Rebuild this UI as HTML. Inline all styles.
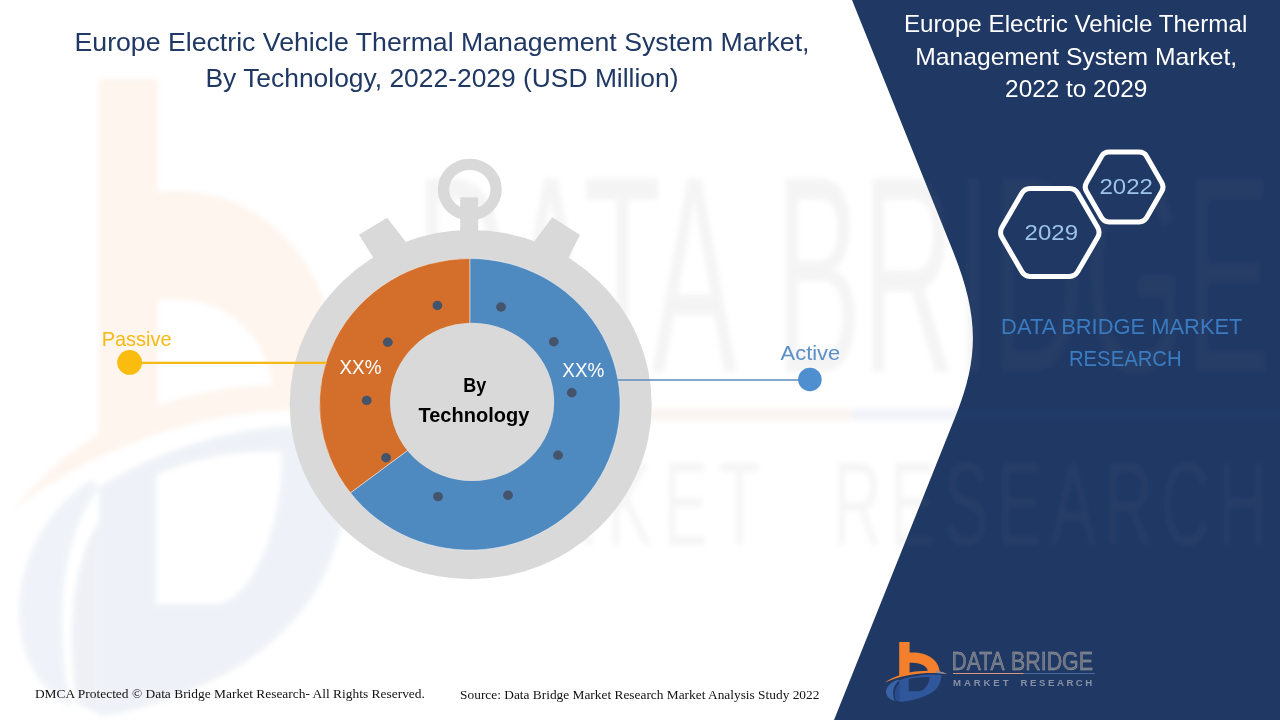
<!DOCTYPE html>
<html lang="en">
<head>
<meta charset="utf-8">
<title>Europe Electric Vehicle Thermal Management System Market</title>
<style>
  html, body { margin: 0; padding: 0; background: #ffffff; }
  body { width: 1280px; height: 720px; overflow: hidden; position: relative; }
  svg { position: absolute; left: 0; top: 0; display: block; }
  text { font-family: "Liberation Sans", sans-serif; }
  .serif { font-family: "Liberation Serif", serif; }
</style>
</head>
<body>
<svg width="1280" height="720" viewBox="0 0 1280 720">
  <defs>
    <filter id="blur3" x="-5%" y="-5%" width="110%" height="110%"><feGaussianBlur stdDeviation="2.5"/></filter>
    <filter id="blur4" x="-10%" y="-10%" width="120%" height="120%"><feGaussianBlur stdDeviation="4"/></filter>
    <filter id="blur6" x="-10%" y="-10%" width="120%" height="120%"><feGaussianBlur stdDeviation="6"/></filter>
  </defs>

  <!-- ===== background ===== -->
  <rect x="0" y="0" width="1280" height="720" fill="#ffffff"/>


  <!-- ===== navy panel ===== -->
  <path id="panel" d="M852,0 L952.5,250 C977.3,311.7 980.7,353.3 956,415 L834,720 L1280,720 L1280,0 Z" fill="#1F3864"/>

  <!-- ===== WATERMARK (enlarged faint copy of the logo) ===== -->
  <g id="watermark" opacity="0.075" filter="url(#blur3)">
    <g transform="matrix(6.05 0 0 10.65 -5341.2 -6758.3)">
    <!-- blue D body -->
    <path fill-rule="evenodd" d="M899.2,680.4 C905,678 916,675.6 926,674.8 C932,674.4 938,674.6 941.4,675.2 C941.6,681 938.4,687.4 934,691 C928.6,695.2 922,697.6 914.5,699.4 C908.5,700.8 903,701.7 899.2,701.8 Z M908.7,679.2 C914,677.8 922,676.8 929.4,677 C929.6,682 927,687.4 922.6,690 C921,691 919.6,691.3 918,691.3 L908.7,691.3 Z" fill="#30579B"/>
    <!-- left crescent -->
    <path d="M886,692 C886,687 890.5,682.4 898,679.6 L899.2,680.4 C893.6,684.4 891.4,692 894.6,701 C889.6,699.4 886,696.4 886,692 Z" fill="#3A62A6"/>
    <path d="M895.6,700.6 C893.4,693 895.6,686.4 899.2,683.6 L899.2,701.6 Z" fill="#2A4C8A"/>
    <!-- orange b -->
    <path d="M899.2,642 L908.9,642 L908.9,652.6 C926,651.6 938.6,659 939.8,672 L928,671.6 C927.4,666 920,662 908.9,662.8 L908.9,674 L899.2,676 Z" fill="#F47F2C"/>
    <!-- orange swoosh -->
    <path d="M885,682.5 C893,676.6 905,672.6 918,671.3 C926,670.5 934,670.6 939.8,671.6 C942.6,672.2 945,673 946.8,674.1 C940,673 931,672.8 921,673.6 C908,674.8 894,678.4 885,682.5 Z" fill="#F47F2C"/>
    <path d="M936,671.1 C940,671.5 944,672.6 946.8,674.1 C943.4,673.5 940,673.2 936,673 Z" fill="#7F8FAE"/>
    <!-- wordmark -->
    <text x="951.6" y="669.5" font-size="26.4" fill="#7C7C80" textLength="53" lengthAdjust="spacingAndGlyphs">DATA</text>
    <text x="1011" y="669.5" font-size="26.4" fill="#7C7C80" textLength="82" lengthAdjust="spacingAndGlyphs">BRIDGE</text>
    <line x1="953" y1="673.5" x2="1023.8" y2="673.5" stroke="#C87A4A" stroke-width="1.1"/>
    <line x1="1023.8" y1="673.5" x2="1095" y2="673.5" stroke="#3E64A6" stroke-width="1.1"/>
    <text x="953" y="685.8" font-size="11.2" fill="#85868C" textLength="55.5" lengthAdjust="spacing">MARKET</text>
    <text x="1020.5" y="685.8" font-size="11.2" fill="#85868C" textLength="71.8" lengthAdjust="spacing">RESEARCH</text>
    </g>
  </g>

  <!-- ===== main title ===== -->
  <g fill="#1F3864" font-size="26">
    <text x="74.5" y="50.6" textLength="735" lengthAdjust="spacingAndGlyphs">Europe Electric Vehicle Thermal Management System Market,</text>
    <text x="205.5" y="86.5" textLength="473" lengthAdjust="spacingAndGlyphs">By Technology, 2022-2029 (USD Million)</text>
  </g>

  <!-- ===== STOPWATCH ===== -->
  <g id="stopwatch">
    <!-- top ring -->
    <ellipse cx="469.8" cy="189.5" rx="26.3" ry="25.2" fill="none" stroke="#D9D9D9" stroke-width="11.3"/>
    <!-- stem -->
    <rect x="460.2" y="197.3" width="18" height="40" fill="#D9D9D9"/>
    <!-- side buttons -->
    <polygon points="387.1,217.8 359,234.8 376,262 409,246" fill="#D9D9D9"/>
    <polygon points="552.2,217.3 580,235.1 566.3,262 531,246" fill="#D9D9D9"/>
    <!-- body -->
    <ellipse cx="470.7" cy="404.6" rx="181" ry="174.6" fill="#D9D9D9"/>
    <!-- donut: drawn in unstretched coords then scaled horizontally -->
    <g transform="translate(469.8,404.3) scale(1.031,1)">
      <!-- blue slice: from 12 o'clock clockwise round to the 127.4deg mark -->
      <path d="M0,0 L0,-145.8 A145.8,145.8 0 1 1 -115.83,88.55 Z" fill="#4E89C0" stroke="#ffffff" stroke-opacity="0.55" stroke-width="0.8"/>
      <!-- orange slice: from 12 o'clock counter-clockwise 127.4deg -->
      <path d="M0,0 L0,-145.8 A145.8,145.8 0 0 0 -115.83,88.55 Z" fill="#D36F2B" stroke="#ffffff" stroke-opacity="0.55" stroke-width="0.8"/>
    </g>
    <!-- hole (slightly off-centre, as in the artwork) -->
    <ellipse cx="472.1" cy="401.9" rx="82.1" ry="79.2" fill="#D9D9D9"/>
    <!-- dots -->
    <g fill="#44546A">
      <ellipse cx="437.4" cy="305.5" rx="4.9" ry="4.7"/>
      <ellipse cx="501" cy="307" rx="4.9" ry="4.7"/>
      <ellipse cx="553.8" cy="341.8" rx="4.9" ry="4.7"/>
      <ellipse cx="571.8" cy="392.7" rx="4.9" ry="4.7"/>
      <ellipse cx="558" cy="455.2" rx="4.9" ry="4.7"/>
      <ellipse cx="508" cy="495.3" rx="4.9" ry="4.7"/>
      <ellipse cx="438" cy="496.6" rx="4.9" ry="4.7"/>
      <ellipse cx="386.1" cy="457.8" rx="4.9" ry="4.7"/>
      <ellipse cx="366.7" cy="400.4" rx="4.9" ry="4.7"/>
      <ellipse cx="387.8" cy="342.2" rx="4.9" ry="4.7"/>
    </g>
    <!-- percentages -->
    <g fill="#ffffff" font-size="20.8">
      <text x="339.5" y="373.8" textLength="42" lengthAdjust="spacingAndGlyphs">XX%</text>
      <text x="562.3" y="376.7" textLength="42" lengthAdjust="spacingAndGlyphs">XX%</text>
    </g>
    <!-- centre caption -->
    <g fill="#000000" font-size="20.2" font-weight="bold">
      <text x="463.2" y="392" textLength="23" lengthAdjust="spacingAndGlyphs">By</text>
      <text x="418.5" y="421.5" textLength="110.8" lengthAdjust="spacingAndGlyphs">Technology</text>
    </g>
  </g>

  <!-- ===== LABELS ===== -->
  <g id="labels">
    <line x1="129.6" y1="362.9" x2="326.7" y2="362.9" stroke="#F7B916" stroke-width="2.2"/>
    <circle cx="129.6" cy="362.4" r="12.4" fill="#FBBC10"/>
    <text x="101.7" y="345.6" font-size="20.2" fill="#F7B916" textLength="69.9" lengthAdjust="spacingAndGlyphs">Passive</text>

    <line x1="617.5" y1="380" x2="809.9" y2="380" stroke="#5B8AB8" stroke-width="1.6"/>
    <circle cx="809.9" cy="379.5" r="11.8" fill="#4F8FD0"/>
    <text x="780.6" y="359.75" font-size="20.2" fill="#5B8FC9" textLength="59.6" lengthAdjust="spacingAndGlyphs">Active</text>
  </g>

  <!-- ===== RIGHT PANEL CONTENT ===== -->
  <g id="right">
    <g fill="#ffffff" font-size="23.4">
      <text x="903.9" y="32.4" textLength="343.4" lengthAdjust="spacingAndGlyphs">Europe Electric Vehicle Thermal</text>
      <text x="915.3" y="64.7" textLength="321.8" lengthAdjust="spacingAndGlyphs">Management System Market,</text>
      <text x="1005.1" y="96.9" textLength="142.2" lengthAdjust="spacingAndGlyphs">2022 to 2029</text>
    </g>
    <!-- hexagons -->
    <g fill="#1F3864" stroke="#ffffff" stroke-width="5" stroke-linejoin="round">
      <path d="M1086.4,191.3 Q1083.9,187.0 1086.4,182.7 L1101.5,156.4 Q1104.0,152.1 1109.0,152.1 L1139.2,152.1 Q1144.2,152.1 1146.7,156.4 L1161.8,182.7 Q1164.3,187.0 1161.8,191.3 L1146.7,217.6 Q1144.2,221.9 1139.2,221.9 L1109.0,221.9 Q1104.0,221.9 1101.5,217.6 Z"/>
      <path d="M1001.9,237.2 Q999.2,232.4 1001.9,227.6 L1021.8,193.2 Q1024.5,188.4 1030.0,188.4 L1069.6,188.4 Q1075.1,188.4 1077.8,193.2 L1097.7,227.6 Q1100.4,232.4 1097.7,237.2 L1077.8,271.6 Q1075.1,276.4 1069.6,276.4 L1030.0,276.4 Q1024.5,276.4 1021.8,271.6 Z"/>
    </g>
    <g fill="#9DC3E6" font-size="22.4">
      <text x="1099.5" y="194.4" textLength="53.4" lengthAdjust="spacingAndGlyphs">2022</text>
      <text x="1024.6" y="240.4" textLength="53.4" lengthAdjust="spacingAndGlyphs">2029</text>
    </g>
    <g fill="#3A7BC2" font-size="22.4">
      <text x="1001.1" y="333.8" textLength="241.4" lengthAdjust="spacingAndGlyphs">DATA BRIDGE MARKET</text>
      <text x="1068.9" y="365.7" textLength="112.8" lengthAdjust="spacingAndGlyphs">RESEARCH</text>
    </g>
  </g>

  <!-- ===== LOGO ===== -->
  <g id="logo">
    <!-- blue D body -->
    <path fill-rule="evenodd" d="M899.2,680.4 C905,678 916,675.6 926,674.8 C932,674.4 938,674.6 941.4,675.2 C941.6,681 938.4,687.4 934,691 C928.6,695.2 922,697.6 914.5,699.4 C908.5,700.8 903,701.7 899.2,701.8 Z M908.7,679.2 C914,677.8 922,676.8 929.4,677 C929.6,682 927,687.4 922.6,690 C921,691 919.6,691.3 918,691.3 L908.7,691.3 Z" fill="#30579B"/>
    <!-- left crescent -->
    <path d="M886,692 C886,687 890.5,682.4 898,679.6 L899.2,680.4 C893.6,684.4 891.4,692 894.6,701 C889.6,699.4 886,696.4 886,692 Z" fill="#3A62A6"/>
    <path d="M895.6,700.6 C893.4,693 895.6,686.4 899.2,683.6 L899.2,701.6 Z" fill="#2A4C8A"/>
    <!-- orange b -->
    <path d="M899.2,642 L909.6,642 L909.6,652.6 C926,651.6 938.6,659 939.8,672 L928,671.6 C927.4,666 920,662 909.6,662.8 L909.6,674 L899.2,676 Z" fill="#F47F2C"/>
    <!-- orange swoosh -->
    <path d="M885,682.5 C893,676.6 905,672.6 918,671.3 C926,670.5 934,670.6 939.8,671.6 C942.6,672.2 945,673 946.8,674.1 C940,673 931,672.8 921,673.6 C908,674.8 894,678.4 885,682.5 Z" fill="#F47F2C"/>
    <path d="M936,671.1 C940,671.5 944,672.6 946.8,674.1 C943.4,673.5 940,673.2 936,673 Z" fill="#7F8FAE"/>
    <!-- wordmark -->
    <text x="951.6" y="670" font-size="26.4" fill="#6F727B" stroke="#9CA3B2" stroke-width="0.45" textLength="53" lengthAdjust="spacingAndGlyphs">DATA</text>
    <text x="1011" y="670" font-size="26.4" fill="#6F727B" stroke="#9CA3B2" stroke-width="0.45" textLength="82" lengthAdjust="spacingAndGlyphs">BRIDGE</text>
    <line x1="953" y1="673.5" x2="1023.8" y2="673.5" stroke="#D79682" stroke-width="1.1"/>
    <line x1="1023.8" y1="673.5" x2="1095" y2="673.5" stroke="#4669A5" stroke-width="1.1"/>
    <text x="953" y="686.3" font-size="9.6" font-weight="bold" fill="#8890A6" textLength="55.5" lengthAdjust="spacing">MARKET</text>
    <text x="1020.5" y="686.3" font-size="9.6" font-weight="bold" fill="#8890A6" textLength="71.8" lengthAdjust="spacing">RESEARCH</text>
  </g>

  <!-- ===== footer ===== -->
  <g class="serif" fill="#111111" font-size="13.33">
    <text class="serif" x="34.9" y="697.9" textLength="390" lengthAdjust="spacingAndGlyphs">DMCA Protected © Data Bridge Market Research- All Rights Reserved.</text>
    <text class="serif" x="460.1" y="698.9" textLength="359.3" lengthAdjust="spacingAndGlyphs">Source: Data Bridge Market Research Market Analysis Study 2022</text>
  </g>
</svg>
</body>
</html>
